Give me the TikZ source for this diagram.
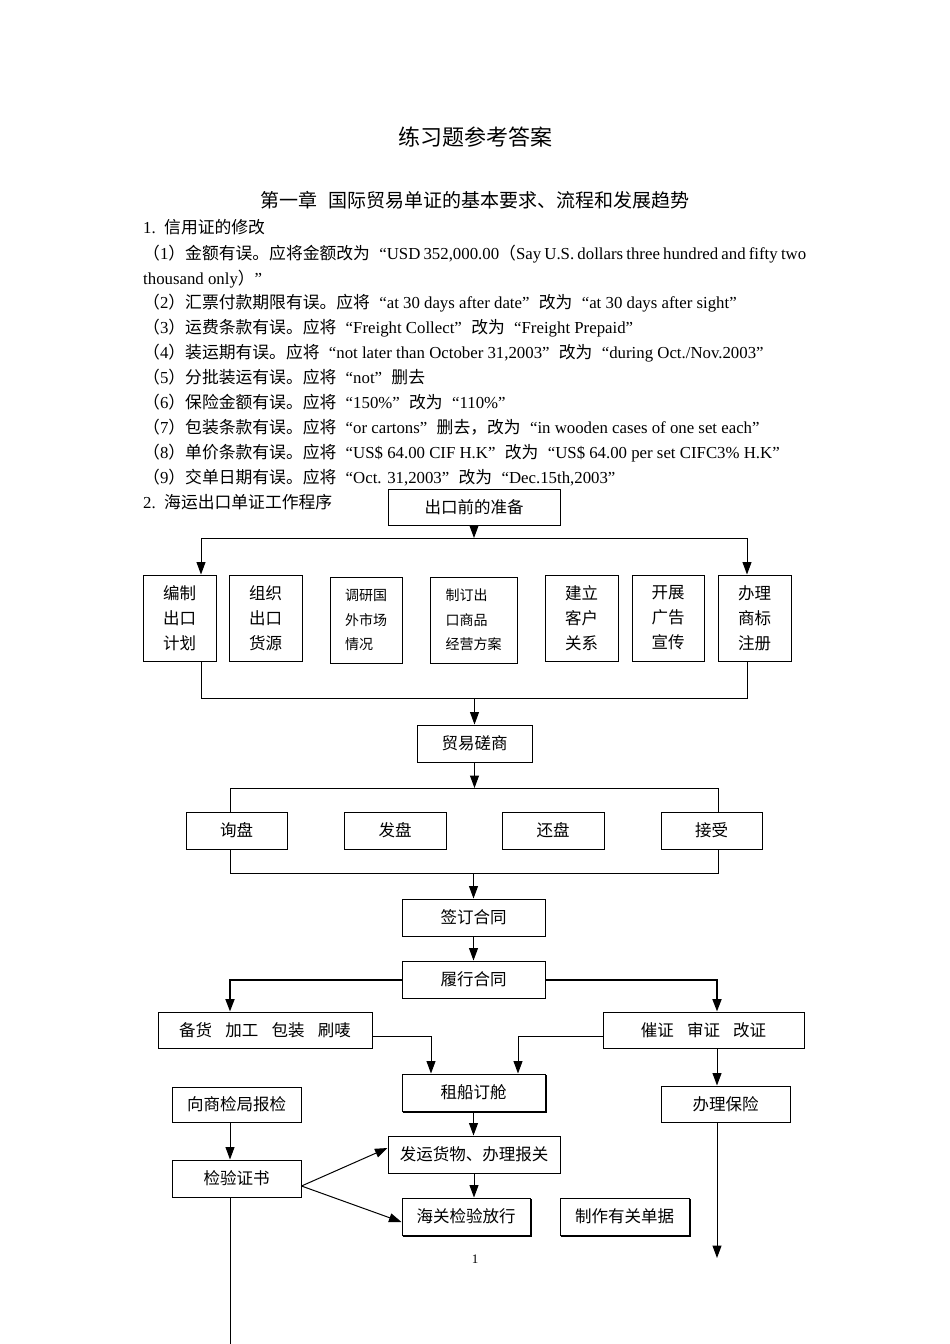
\documentclass[tikz,border=0pt]{standalone}
\usepackage{fontspec}
\setmainfont{Liberation Serif}
\newfontfamily\cjk{Noto Sans CJK SC}
\usetikzlibrary{arrows.meta}
\newcommand\zh[1]{{\cjk #1}}
\newcommand\zlq{\makebox[16.8pt][r]{“}}
\newcommand\zrq{\makebox[16.8pt][l]{”}}
\newcommand\pn[1]{\zh{（}#1\zh{）}}
\newcommand\bodyfnt{\fontsize{16.8}{20}\selectfont}
\newcommand\boxfnt{\cjk\fontsize{16.5}{25}\selectfont}
\newcommand\smallboxfnt{\cjk\fontsize{14}{24.5}\selectfont}
\tikzset{
  txt/.style={anchor=base west, inner sep=0pt, font=\bodyfnt},
  box/.style={draw, line width=1pt, inner sep=0pt, font=\boxfnt, align=center},
  ln/.style={line width=1pt},
  arr/.style={line width=1pt, -{Triangle[length=12.5pt,width=9pt]}},
  arrthick/.style={line width=1.8pt, -{Triangle[length=12.5pt,width=9pt]}}
}
\newcommand\shadowbox[1]{\draw[line width=1.3pt] ([shift={(1.2,1.2)}]#1.south west) -- ([shift={(1.2,1.2)}]#1.south east) -- ([shift={(1.2,1.2)}]#1.north east);}
\begin{document}
\begin{tikzpicture}[x=1pt,y=-1pt]
\useasboundingbox (0,0) rectangle (950,1344);
% ---------- headings ----------
\node[font=\cjk\fontsize{22}{22}\selectfont, inner sep=0pt] (title) at (475,137) {练习题参考答案};
\node[font=\cjk\fontsize{19}{19}\selectfont, inner sep=0pt] (chap) at (475,200) {第一章\hspace{0.6em}国际贸易单证的基本要求、流程和发展趋势};
% ---------- body text ----------
\node[txt] (l1) at (143,233) {1.\ \ \zh{信用证的修改}};
\node[txt] (l2) at (143,259) {\makebox[663pt][s]{\pn{1}\zh{金额有误。应将金额改为}\zlq USD 352,000.00\zh{（}Say U.S. dollars three hundred and fifty two}};
\node[txt] (l3) at (143,284) {thousand only\zh{）}\zrq};
\node[txt] (l4) at (143,308) {\pn{2}\zh{汇票付款期限有误。应将}\zlq at 30 days after date\zrq\zh{改为}\zlq at 30 days after sight\zrq};
\node[txt] (l5) at (143,333) {\pn{3}\zh{运费条款有误。应将}\zlq Freight Collect\zrq\zh{改为}\zlq Freight Prepaid\zrq};
\node[txt] (l6) at (143,358) {\pn{4}\zh{装运期有误。应将}\zlq not later than October 31,2003\zrq\zh{改为}\zlq during Oct./Nov.2003\zrq};
\node[txt] (l7) at (143,383) {\pn{5}\zh{分批装运有误。应将}\zlq not\zrq\zh{删去}};
\node[txt] (l8) at (143,408) {\pn{6}\zh{保险金额有误。应将}\zlq 150\%\zrq\zh{改为}\zlq 110\%\zrq};
\node[txt] (l9) at (143,433) {\pn{7}\zh{包装条款有误。应将}\zlq or cartons\zrq\zh{删去，改为}\zlq in wooden cases of one set each\zrq};
\node[txt] (l10) at (143,458) {\pn{8}\zh{单价条款有误。应将}\zlq US\$ 64.00 CIF H.K\zrq\zh{改为}\zlq US\$ 64.00 per set CIFC3\% H.K\zrq};
\node[txt] (l11) at (143,483) {\pn{9}\zh{交单日期有误。应将}\zlq Oct. 31,2003\zrq\zh{改为}\zlq Dec.15th,2003\zrq};
\node[txt] (l12) at (143,508) {2.\ \ \zh{海运出口单证工作程序}};
% ---------- flowchart boxes ----------
\node[box, minimum width=172pt, minimum height=36pt] (prep) at (474,507) {出口前的准备};
\node[box, minimum width=73pt, minimum height=86pt] (b1) at (179.5,618) {编制\\出口\\计划};
\node[box, minimum width=73pt, minimum height=86pt] (b2) at (265.5,618) {组织\\出口\\货源};
\node[box, minimum width=72pt, minimum height=86pt, font=\smallboxfnt, align=left] (b3) at (366,620) {调研国\\外市场\\情况};
\node[box, minimum width=87pt, minimum height=86pt, font=\smallboxfnt, align=left] (b4) at (473.5,620) {制订出\\口商品\\经营方案};
\node[box, minimum width=73pt, minimum height=86pt] (b5) at (581.5,618) {建立\\客户\\关系};
\node[box, minimum width=72pt, minimum height=86pt] (b6) at (668,618) {开展\\广告\\宣传};
\node[box, minimum width=73pt, minimum height=86pt] (b7) at (754.5,618) {办理\\商标\\注册};
\node[box, minimum width=115pt, minimum height=37pt] (neg) at (474.5,743.5) {贸易磋商};
\node[box, minimum width=101pt, minimum height=37pt] (ask) at (236.5,830.5) {询盘};
\node[box, minimum width=102pt, minimum height=37pt] (offer) at (395,830.5) {发盘};
\node[box, minimum width=102pt, minimum height=37pt] (counter) at (553,830.5) {还盘};
\node[box, minimum width=101pt, minimum height=37pt] (acc) at (711.5,830.5) {接受};
\node[box, minimum width=143pt, minimum height=37pt] (sign) at (473.5,917.5) {签订合同};
\node[box, minimum width=143pt, minimum height=37pt] (perf) at (473.5,979.5) {履行合同};
\node[box, minimum width=214pt, minimum height=36pt] (prepg) at (265,1030) {备货\hspace{0.8em}加工\hspace{0.8em}包装\hspace{0.8em}刷唛};
\node[box, minimum width=201pt, minimum height=36pt] (lc) at (703.5,1030) {催证\hspace{0.8em}审证\hspace{0.8em}改证};
\node[box, minimum width=143pt, minimum height=37pt] (ship) at (473.5,1092.5) {租船订舱};
\node[box, minimum width=129pt, minimum height=36pt] (ins) at (725.5,1104) {办理保险};
\node[box, minimum width=129pt, minimum height=35pt] (insp) at (236.5,1104.5) {向商检局报检};
\node[box, minimum width=129pt, minimum height=37pt] (cert) at (236.5,1178.5) {检验证书};
\node[box, minimum width=172pt, minimum height=37pt] (send) at (474,1154.5) {发运货物、办理报关};
\node[box, minimum width=128pt, minimum height=37pt] (cust) at (466,1216.5) {海关检验放行};
\node[box, minimum width=129pt, minimum height=37pt] (docs) at (624.5,1216.5) {制作有关单据};
\shadowbox{ship}
\shadowbox{cust}
\shadowbox{docs}
\node[font=\fontsize{13}{13}\selectfont, inner sep=0pt] (pg) at (475,1259) {1};
% ---------- junction coordinates ----------
\coordinate (j1l) at (201,538);  \coordinate (j1r) at (747,538);
\coordinate (j2l) at (201,698);  \coordinate (j2r) at (747,698);
\coordinate (j3l) at (230,788);  \coordinate (j3r) at (718,788);
\coordinate (j4l) at (230,873);  \coordinate (j4r) at (718,873);
\coordinate (j5l) at (230,980);  \coordinate (j5r) at (717,980);
\coordinate (j6l) at (431,1036); \coordinate (j6r) at (518,1036);
\coordinate (insend) at (717,1258);
\coordinate (certend) at (230,1344);
\coordinate (cs) at ([yshift=-7.5pt]cert.east);
% ---------- connectors ----------
\draw[arr] (prep.south) -- (prep.south |- j1l);
\draw[ln] (j1l) -- (j1r);
\draw[arr] (j1l) -- (j1l |- b1.north);
\draw[arr] (j1r) -- (j1r |- b7.north);
\draw[ln] (j2l |- b1.south) -- (j2l) -- (j2r) -- (j2r |- b7.south);
\draw[arr] (neg.north |- j2l) -- (neg.north);
\draw[arr] (neg.south) -- (neg.south |- j3l);
\draw[ln] (j3l |- ask.north) -- (j3l) -- (j3r) -- (j3r |- acc.north);
\draw[ln] (j4l |- ask.south) -- (j4l) -- (j4r) -- (j4r |- acc.south);
\draw[arr] (sign.north |- j4l) -- (sign.north);
\draw[arr] (sign.south) -- (perf.north);
\draw[arrthick] (perf.west |- j5l) -- (j5l) -- (j5l |- prepg.north);
\draw[arrthick] (perf.east |- j5r) -- (j5r) -- (j5r |- lc.north);
\draw[arr] (prepg.east |- j6l) -- (j6l) -- (j6l |- ship.north);
\draw[arr] (lc.west |- j6r) -- (j6r) -- (j6r |- ship.north);
\draw[arr] (j5r |- lc.south) -- (j5r |- ins.north);
\draw[arr] (j5r |- ins.south) -- (insend);
\draw[arr] (j5l |- insp.south) -- (j5l |- cert.north);
\draw[ln] (j5l |- cert.south) -- (certend);
\draw[arr] (ship.south) -- (ship.south |- send.north);
\draw[arr] (send.south) -- (send.south |- cust.north);
\draw[arr] (cs) -- ([yshift=6.5pt]send.west);
\draw[arr] (cs) -- ([yshift=-5.5pt]cust.west);
\end{tikzpicture}
\end{document}
